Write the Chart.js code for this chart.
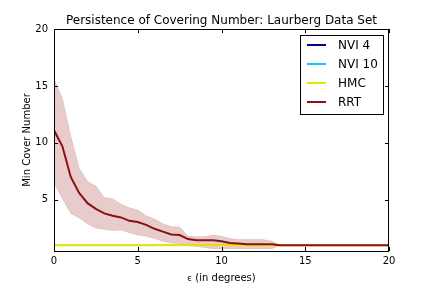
<!DOCTYPE html>
<html>
<head>
<meta charset="utf-8">
<script src="https://cdn.jsdelivr.net/npm/chart.js@4"></script>
<style>
  html, body { margin: 0; padding: 0; background: #fff; }
  #wrap { width: 432px; height: 288px; }
</style>
</head>
<body>
<div id="wrap"><canvas id="chart" width="432" height="288"></canvas></div>
<script>
// epsilon values (degrees)
const eps = [0, 0.5, 1, 1.5, 2, 2.5, 3, 3.5, 4, 4.5, 5, 5.5, 6, 6.5, 7, 7.5, 8, 8.5, 9, 9.5,
  10, 10.5, 11, 11.5, 12, 12.5, 13, 13.5, 14, 14.5, 15, 15.5, 16, 16.5, 17, 17.5, 18, 18.5, 19, 19.5, 20];

const rrtMean = [11.1, 9.7, 7.0, 5.6, 4.7, 4.2, 3.8, 3.6, 3.45, 3.15, 3.05, 2.8, 2.45, 2.2, 1.95, 1.9, 1.55, 1.45, 1.45, 1.45,
  1.35, 1.2, 1.15, 1.1, 1.1, 1.1, 1.1, 1.0, 1, 1, 1, 1, 1, 1, 1, 1, 1, 1, 1, 1, 1];
const rrtUpper = [15.6, 13.9, 10.6, 7.8, 6.6, 6.2, 5.2, 5.1, 4.6, 4.3, 4.1, 3.6, 3.3, 2.9, 2.65, 2.6, 1.8, 1.75, 1.75, 1.9,
  1.8, 1.6, 1.5, 1.5, 1.5, 1.5, 1.35, 1.0, 1, 1, 1, 1, 1, 1, 1, 1, 1, 1, 1, 1, 1];
const rrtLower = [6.5, 5.1, 3.8, 3.4, 2.9, 2.5, 2.4, 2.3, 2.35, 2.1, 1.9, 1.8, 1.6, 1.35, 1.2, 1.15, 1.0, 0.9, 0.8, 0.7,
  0.7, 0.7, 0.7, 0.7, 0.7, 0.7, 0.7, 1.0, 1, 1, 1, 1, 1, 1, 1, 1, 1, 1, 1, 1, 1];
const nvi4 = [1, 1, 1, 1, 1, 1, 1, 1, 1, 1, 1, 1, 1, 1, 1, 1, 1, 1, 1, 1,
  1, 1, 1, 1, 1, 1, 1, 1, 1, 1, 1, 1, 1, 1, 1, 1, 1, 1, 1, 1, 1];
const nvi10 = [1, 1, 1, 1, 1, 1, 1, 1, 1, 1, 1, 1, 1, 1, 1, 1, 1, 1, 1, 1,
  1, 1, 1, 1, 1, 1, 1, 1, 1, 1, 1, 1, 1, 1, 1, 1, 1, 1, 1, 1, 1];
const hmc = [1, 1, 1, 1, 1, 1, 1, 1, 1, 1, 1, 1, 1, 1, 1, 1, 1, 1, 1, 1,
  1, 1, 1, 1, 1, 1, 1, 1, 1, 1, 1, 1, 1, 1, 1, 1, 1, 1, 1, 1, 1];

const xTicks = [0, 5, 10, 15, 20];
const yTicks = [5, 10, 15, 20];

const legendNames = ["NVI 4", "NVI 10", "HMC", "RRT"];
const legendColors = ["#00008b", "#00ccff", "#ebe600", "#8b1010"];

const pts = (ys) => eps.map((x, i) => ({ x: x, y: ys[i] }));
const FONT = "'DejaVu Sans', sans-serif";

// matplotlib-like frame: inward ticks on all sides, titles, legend box
const framePlugin = {
  id: "frame",
  afterDraw(chart) {
    const { ctx, chartArea: a, scales } = chart;
    ctx.save();
    ctx.strokeStyle = "#000";
    ctx.lineWidth = 1;
    ctx.strokeRect(a.left + 0.5, a.top + 0.5, a.right - a.left - 1, a.bottom - a.top);
    ctx.beginPath();
    xTicks.forEach((t) => {
      const x = Math.round(scales.x.getPixelForValue(t)) + 0.5;
      ctx.moveTo(x, a.bottom); ctx.lineTo(x, a.bottom - 4);
      ctx.moveTo(x, a.top); ctx.lineTo(x, a.top + 4);
    });
    yTicks.forEach((t) => {
      const y = Math.round(scales.y.getPixelForValue(t)) + 0.5;
      ctx.moveTo(a.left, y); ctx.lineTo(a.left + 4, y);
      ctx.moveTo(a.right, y); ctx.lineTo(a.right - 4, y);
    });
    ctx.stroke();

    // titles
    const cx = (a.left + a.right) / 2;
    ctx.fillStyle = "#000";
    ctx.textAlign = "center";
    ctx.textBaseline = "alphabetic";
    ctx.font = "12px " + FONT;
    ctx.fillText("Persistence of Covering Number: Laurberg Data Set", cx, 24);
    ctx.font = "10px " + FONT;
    const rest = " (in degrees)";
    const wRest = ctx.measureText(rest).width;
    ctx.font = "8px " + FONT;
    const wEps = ctx.measureText("\u03f5").width;
    const x0 = cx - (wRest + wEps) / 2;
    ctx.textAlign = "left";
    ctx.fillText("\u03f5", x0, 281);
    ctx.font = "10px " + FONT;
    ctx.fillText(rest, x0 + wEps, 281);
    ctx.save();
    ctx.translate(30, (a.top + a.bottom) / 2);
    ctx.rotate(-Math.PI / 2);
    ctx.textAlign = "center";
    ctx.fillText("Min Cover Number", 0, 0);
    ctx.restore();

    // legend
    const bx = 300.5, by = 35.5, bw = 83, bh = 79;
    ctx.fillStyle = "#fff";
    ctx.fillRect(bx, by, bw, bh);
    ctx.strokeStyle = "#000";
    ctx.lineWidth = 1;
    ctx.strokeRect(bx, by, bw, bh);
    ctx.font = "12px " + FONT;
    ctx.textAlign = "left";
    ctx.textBaseline = "middle";
    legendNames.forEach((name, i) => {
      const y = 45 + i * 19;
      ctx.strokeStyle = legendColors[i];
      ctx.lineWidth = 2;
      ctx.beginPath();
      ctx.moveTo(307, y); ctx.lineTo(326, y);
      ctx.stroke();
      ctx.fillStyle = "#000";
      ctx.fillText(name, 338, y + 1);
    });
    ctx.restore();
  }
};

const config = {
  type: "line",
  data: {
    datasets: [
      { label: "RRT", data: pts(rrtMean), borderColor: legendColors[3], borderWidth: 2, pointRadius: 0, fill: false },
      { label: "HMC", data: pts(hmc), borderColor: legendColors[2], borderWidth: 2, pointRadius: 0, fill: false },
      { label: "NVI 10", data: pts(nvi10), borderColor: legendColors[1], borderWidth: 1, pointRadius: 0, fill: false },
      { label: "NVI 4", data: pts(nvi4), borderColor: legendColors[0], borderWidth: 1, pointRadius: 0, fill: false },
      { label: "RRT upper", data: pts(rrtUpper), borderColor: "rgba(139,0,0,0.12)", borderWidth: 1, pointRadius: 0,
        backgroundColor: "rgba(139,0,0,0.2)", fill: "+1" },
      { label: "RRT lower", data: pts(rrtLower), borderColor: "rgba(139,0,0,0.12)", borderWidth: 1, pointRadius: 0, fill: false }
    ]
  },
  options: {
    responsive: false,
    animation: false,
    layout: { padding: { right: 43, top: 29, bottom: 0, left: 0 } },
    plugins: {
      legend: { display: false },
      tooltip: { enabled: false },
      title: { display: false }
    },
    scales: {
      x: {
        type: "linear",
        min: 0, max: 20,
        afterBuildTicks: (s) => { s.ticks = xTicks.map((v) => ({ value: v })); },
        afterFit: (s) => { s.height = 37; },
        grid: { display: false, drawTicks: false },
        border: { display: false },
        ticks: { color: "#000", padding: 4, maxRotation: 0, font: { family: FONT, size: 10 } },
        title: { display: false }
      },
      y: {
        min: 0.5, max: 20,
        afterBuildTicks: (s) => { s.ticks = yTicks.map((v) => ({ value: v })); },
        afterFit: (s) => { s.width = 54; },
        grid: { display: false, drawTicks: false },
        border: { display: false },
        ticks: { color: "#000", padding: 6, font: { family: FONT, size: 10 } },
        title: { display: false }
      }
    }
  },
  plugins: [framePlugin]
};

new Chart(document.getElementById("chart").getContext("2d"), config);
</script>
</body>
</html>
